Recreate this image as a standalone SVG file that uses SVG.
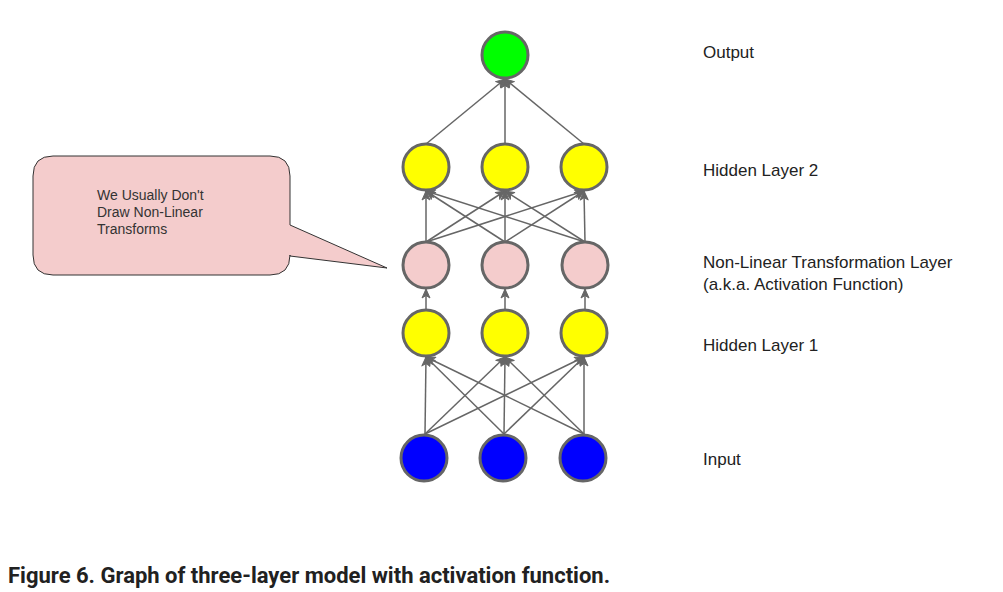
<svg xmlns="http://www.w3.org/2000/svg" width="1003" height="592" viewBox="0 0 1003 592">
<defs>
<marker id="arr" viewBox="0 0 10 10" refX="9.5" refY="5" markerWidth="11" markerHeight="10" markerUnits="userSpaceOnUse" orient="auto">
<path d="M0.5,1 L9.5,5 L0.5,9 L3,5 Z" fill="#666666" stroke="#666666" stroke-width="1" stroke-linejoin="round"/>
</marker>
</defs>
<style>
.n{stroke:#666666;stroke-width:3}
.e{stroke:#666666;stroke-width:1.5;fill:none;marker-end:url(#arr)}
.lbl{font-family:"Liberation Sans",Arial,sans-serif;font-size:17px;fill:#222222}
.call{font-family:"Liberation Sans",Arial,sans-serif;font-size:14px;fill:#333333}
.cap{font-family:Roboto,"Liberation Sans",sans-serif;font-size:22px;font-weight:bold;fill:#212121}
</style>
<rect width="1003" height="592" fill="#ffffff"/>
<g id="connectors">
<line class="e" x1="426" y1="144" x2="505" y2="79"/>
<line class="e" x1="505" y1="144" x2="505" y2="79"/>
<line class="e" x1="584" y1="144" x2="505" y2="79"/>
<line class="e" x1="426" y1="242" x2="426" y2="191"/>
<line class="e" x1="426" y1="242" x2="505" y2="191"/>
<line class="e" x1="426" y1="242" x2="584" y2="191"/>
<line class="e" x1="505" y1="242" x2="426" y2="191"/>
<line class="e" x1="505" y1="242" x2="505" y2="191"/>
<line class="e" x1="505" y1="242" x2="584" y2="191"/>
<line class="e" x1="585" y1="242" x2="426" y2="191"/>
<line class="e" x1="585" y1="242" x2="505" y2="191"/>
<line class="e" x1="585" y1="242" x2="584" y2="191"/>
<line class="e" x1="426" y1="310" x2="426" y2="289"/>
<line class="e" x1="505" y1="310" x2="505" y2="289"/>
<line class="e" x1="585" y1="310" x2="585" y2="289"/>
<line class="e" x1="425" y1="434" x2="426" y2="357"/>
<line class="e" x1="425" y1="434" x2="505" y2="357"/>
<line class="e" x1="425" y1="434" x2="584" y2="357"/>
<line class="e" x1="504" y1="434" x2="426" y2="357"/>
<line class="e" x1="504" y1="434" x2="505" y2="357"/>
<line class="e" x1="504" y1="434" x2="584" y2="357"/>
<line class="e" x1="584" y1="434" x2="426" y2="357"/>
<line class="e" x1="584" y1="434" x2="505" y2="357"/>
<line class="e" x1="584" y1="434" x2="584" y2="357"/>
</g>
<g id="output"><circle class="n" cx="505" cy="55" r="23" fill="#00ff00"/></g>
<g id="h2a"><circle class="n" cx="426" cy="167" r="23" fill="#ffff00"/></g>
<g id="h2b"><circle class="n" cx="505" cy="167" r="23" fill="#ffff00"/></g>
<g id="h2c"><circle class="n" cx="584" cy="167" r="23" fill="#ffff00"/></g>
<g id="nla"><circle class="n" cx="426" cy="265" r="23" fill="#f4cccc"/></g>
<g id="nlb"><circle class="n" cx="505" cy="265" r="23" fill="#f4cccc"/></g>
<g id="nlc"><circle class="n" cx="585" cy="265" r="23" fill="#f4cccc"/></g>
<g id="h1a"><circle class="n" cx="426" cy="333" r="23" fill="#ffff00"/></g>
<g id="h1b"><circle class="n" cx="505" cy="333" r="23" fill="#ffff00"/></g>
<g id="h1c"><circle class="n" cx="584" cy="333" r="23" fill="#ffff00"/></g>
<g id="ina"><circle class="n" cx="424" cy="458" r="23" fill="#0000ff"/></g>
<g id="inb"><circle class="n" cx="503" cy="458" r="23" fill="#0000ff"/></g>
<g id="inc"><circle class="n" cx="583" cy="458" r="23" fill="#0000ff"/></g>
<g id="callout">
<path d="M53,156 L270,156 Q290,156 290,176 L290,225 L387,268 L290,256 L290,255 Q290,275 270,275 L53,275 Q33,275 33,255 L33,176 Q33,156 53,156 Z" fill="#f4cccc" stroke="#333333" stroke-width="1"/>
<text class="call" x="97" y="200">We Usually Don't</text>
<text class="call" x="97" y="217">Draw Non-Linear</text>
<text class="call" x="97" y="234">Transforms</text>
</g>
<g id="labels">
<text class="lbl" x="703" y="58">Output</text>
<text class="lbl" x="703" y="176">Hidden Layer 2</text>
<text class="lbl" x="703" y="268">Non-Linear Transformation Layer</text>
<text class="lbl" x="703" y="290">(a.k.a. Activation Function)</text>
<text class="lbl" x="703" y="351">Hidden Layer 1</text>
<text class="lbl" x="703" y="465">Input</text>
</g>
<text class="cap" x="8" y="583">Figure 6. Graph of three-layer model with activation function.</text>
</svg>
